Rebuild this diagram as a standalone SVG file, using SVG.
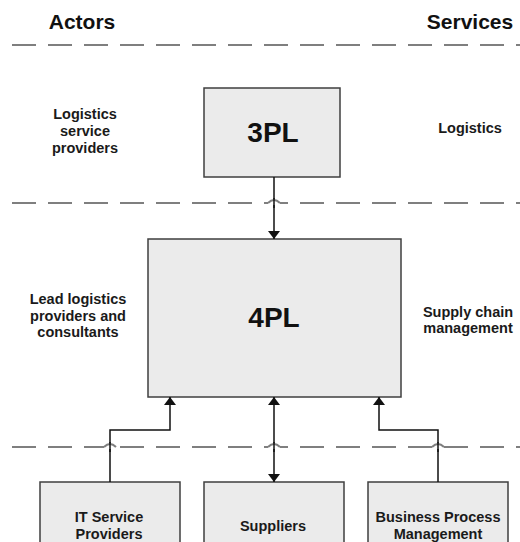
<svg xmlns="http://www.w3.org/2000/svg" width="520" height="542" viewBox="0 0 520 542">
  <style>
    .sep { stroke: #7f7f7f; stroke-width: 2; stroke-dasharray: 24 12; fill: none; }
    .hop { stroke: #7f7f7f; stroke-width: 2; fill: none; }
    .gap { fill: #ffffff; }
    .box { fill: #ebebeb; stroke: #3f3f3f; stroke-width: 1.5; }
    .lbl { font-family: "Liberation Sans", Arial, sans-serif; font-weight: bold; font-size: 14.5px; fill: #1a1a1a; text-anchor: middle; }
    .head { font-family: "Liberation Sans", Arial, sans-serif; font-weight: bold; font-size: 21px; fill: #111111; text-anchor: middle; }
    .big { font-family: "Liberation Sans", Arial, sans-serif; font-weight: bold; font-size: 28px; fill: #111111; text-anchor: middle; }
    .wire { stroke: #111111; stroke-width: 1.5; fill: none; }
  </style>
  <defs>
    <marker id="tip" viewBox="0 0 10 10" refX="10" refY="5" markerWidth="8" markerHeight="12" markerUnits="userSpaceOnUse" orient="auto-start-reverse" preserveAspectRatio="none">
      <path d="M0,0 L10,5 L0,10 Z" fill="#111111"/>
    </marker>
  </defs>

  <rect width="520" height="542" fill="#ffffff"/>

  <!-- column headings -->
  <text class="head" x="82" y="29">Actors</text>
  <text class="head" x="470" y="29">Services</text>

  <!-- tier separators -->
  <g id="separators">
    <line class="sep" x1="12" y1="45" x2="520" y2="45"/>
    <line class="sep" x1="12" y1="203" x2="520" y2="203"/>
    <line class="sep" x1="12" y1="447" x2="520" y2="447"/>
  </g>

  <!-- side labels -->
  <g id="label-3pl-actor">
    <text class="lbl" x="85" y="119">Logistics</text>
    <text class="lbl" x="85" y="136">service</text>
    <text class="lbl" x="85" y="153">providers</text>
  </g>
  <text id="label-3pl-service" class="lbl" x="470" y="133">Logistics</text>
  <g id="label-4pl-actor">
    <text class="lbl" x="78" y="304">Lead logistics</text>
    <text class="lbl" x="78" y="320.5">providers and</text>
    <text class="lbl" x="78" y="337">consultants</text>
  </g>
  <g id="label-4pl-service">
    <text class="lbl" x="468" y="317">Supply chain</text>
    <text class="lbl" x="468" y="333">management</text>
  </g>

  <!-- nodes -->
  <g id="node-3pl">
    <rect class="box" x="204" y="88" width="136" height="89"/>
    <text class="big" x="273" y="142">3PL</text>
  </g>
  <g id="node-4pl">
    <rect class="box" x="148" y="239" width="253" height="158"/>
    <text class="big" x="274" y="327">4PL</text>
  </g>
  <g id="node-it">
    <rect class="box" x="40" y="482" width="140" height="70"/>
    <text class="lbl" x="109" y="522">IT Service</text>
    <text class="lbl" x="109" y="539">Providers</text>
  </g>
  <g id="node-suppliers">
    <rect class="box" x="204" y="482" width="140" height="70"/>
    <text class="lbl" x="273" y="531">Suppliers</text>
  </g>
  <g id="node-bpm">
    <rect class="box" x="368" y="482" width="140" height="70"/>
    <text class="lbl" x="438" y="522">Business Process</text>
    <text class="lbl" x="438" y="539">Management</text>
  </g>

  <!-- connectors -->
  <g id="connectors">
    <path class="wire" d="M274,177 V239" marker-end="url(#tip)"/>
    <path class="wire" d="M110,482 V430 H170 V397" marker-end="url(#tip)"/>
    <path class="wire" d="M274,397 V482" marker-start="url(#tip)" marker-end="url(#tip)"/>
    <path class="wire" d="M438,482 V430 H379 V397" marker-end="url(#tip)"/>
  </g>

  <!-- line jumps where separators pass the connectors -->
  <g id="jumps">
    <rect class="gap" x="268" y="200" width="12" height="5"/>
    <path class="hop" d="M268,203 Q274,197 280,203"/>
    <rect class="gap" x="104" y="444" width="12" height="5"/>
    <path class="hop" d="M104,447 Q110,441 116,447"/>
    <rect class="gap" x="268" y="444" width="12" height="5"/>
    <path class="hop" d="M268,447 Q274,441 280,447"/>
    <rect class="gap" x="432" y="444" width="12" height="5"/>
    <path class="hop" d="M432,447 Q438,441 444,447"/>
    <path class="wire" d="M274,198 V208 M110,442 V452 M274,442 V452 M438,442 V452"/>
  </g>
</svg>
